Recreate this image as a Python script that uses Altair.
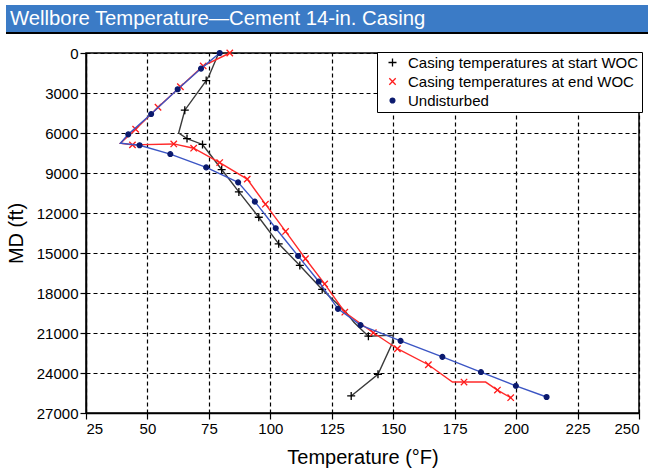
import altair as alt
import pandas as pd

TITLE = "Wellbore Temperature\u2014Cement 14-in. Casing"
SERIES = ["Casing temperatures at start WOC", "Casing temperatures at end WOC", "Undisturbed"]

# Casing temperatures at start WOC (black)
start_temp = [79.0, 75.2, 73.9, 65.2, 62.7, 66.1, 72.4, 75.6, 80.2, 87.2, 95.3, 103.4, 112.0, 121.1,
              130.6, 134.0, 139.9, 150.0, 149.6, 143.8, 132.9]
start_md = [0, 1650, 2070, 4290, 6000, 6420, 6860, 7630, 8740, 10420, 12320, 14310, 15930, 17730,
            19400, 20200, 21240, 21160, 21780, 24100, 25720]
start_mark = [False, False, True, True, False, True, True, False, True, True, True, True, True, True,
              False, False, True, False, False, True, True]

# Casing temperatures at end WOC (red)
end_temp = [83.5, 72.7, 63.4, 54.3, 45.2, 39.0, 43.9, 60.7, 68.8, 79.4, 90.6, 98.0, 106.2, 114.3,
            122.1, 130.3, 141.9, 151.7, 164.3, 174.1, 178.8, 187.6, 192.4, 197.8]
end_md = [0, 970, 2530, 4070, 5720, 6770, 6890, 6820, 7140, 8220, 9460, 11340, 13380, 15430,
          17320, 19440, 20980, 22180, 23380, 24680, 24680, 24680, 25280, 25850]
end_mark = [True, True, True, True, True, False, True, True, True, True, True, True, True, True,
            True, True, True, True, True, False, True, False, True, True]

# Undisturbed (blue)
und_temp = [79.4, 71.8, 62.3, 51.5, 42.2, 39.0, 46.8, 59.3, 73.9, 86.9, 93.7, 102.2, 111.3, 119.7,
            127.5, 136.7, 153.0, 170.0, 185.7, 199.9, 212.4]
und_md = [0, 1170, 2720, 4580, 6100, 6770, 6920, 7580, 8580, 9700, 11150, 13140, 15220, 17140,
          19190, 20410, 21590, 22790, 23930, 24960, 25800]
und_mark = [True, True, True, True, True, False, True, True, True, True, True, True, True, True,
            True, True, True, True, True, True, True]

x_ticks = [25, 50, 75, 100, 125, 150, 175, 200, 225, 250]
y_ticks = [0, 3000, 6000, 9000, 12000, 15000, 18000, 21000, 24000, 27000]

rows = []
for name, ts, ds, ms in [(SERIES[0], start_temp, start_md, start_mark),
                         (SERIES[1], end_temp, end_md, end_mark),
                         (SERIES[2], und_temp, und_md, und_mark)]:
    for i, (t, d, m) in enumerate(zip(ts, ds, ms)):
        rows.append({"series": name, "temp": t, "md": d, "mark": m, "ord": i})
df = pd.DataFrame(rows)

line_colors = {SERIES[0]: "#3a3a3a", SERIES[1]: "#ff2a2a", SERIES[2]: "#3b55c4"}

FONT = "Liberation Sans"
xenc = alt.X("temp:Q", scale=alt.Scale(domain=[25, 250], nice=False, zero=False),
             axis=alt.Axis(values=x_ticks, title="Temperature (\u00b0F)"))
yenc = alt.Y("md:Q", scale=alt.Scale(domain=[0, 27000], reverse=True, nice=False),
             axis=alt.Axis(values=y_ticks, format="d", title="MD (ft)"))

plus_path = "M-1,0L1,0M0,-1L0,1"
x_path = "M-0.8,-0.8L0.8,0.8M-0.8,0.8L0.8,-0.8"
dot_path = "M-0.6,0A0.6,0.6 0 1,0 0.6,0A0.6,0.6 0 1,0 -0.6,0Z"

leg = alt.Legend(title=None, orient="none", legendX=291, legendY=-1,
                 fillColor="white", strokeColor="black", padding=3,
                 labelFontSize=15, labelFont=FONT, labelColor="black", labelLimit=400,
                 symbolOffset=5, rowPadding=3, symbolStrokeWidth=1.3, labelOffset=8,
                 symbolSize=64)

color_enc = alt.Color("series:N", scale=alt.Scale(domain=SERIES, range=["#000000", "#ff1a1a", "#0b1a6e"]), legend=leg)
shape_enc = alt.Shape("series:N", scale=alt.Scale(domain=SERIES, range=[plus_path, x_path, dot_path]), legend=leg)
fill_enc = alt.Fill("series:N", scale=alt.Scale(domain=SERIES, range=["transparent", "transparent", "#0b1a6e"]), legend=leg)

layers = []
for s in SERIES:
    base = alt.Chart(df).transform_filter(alt.datum.series == s)
    layers.append(base.mark_line(color=line_colors[s], strokeWidth=1.4).encode(
        x=xenc, y=yenc, order="ord:Q"))
    layers.append(base.transform_filter(alt.datum.mark).mark_point(
        filled=False, strokeWidth=1.3, opacity=1, size=64).encode(
        x=xenc, y=yenc, color=color_enc, shape=shape_enc, fill=fill_enc))

tdf = pd.DataFrame({"t": [TITLE]})
bar = alt.Chart(tdf).mark_rect(color="#3b7bc6").encode(
    x=alt.value(-80), x2=alt.value(562), y=alt.value(-48), y2=alt.value(-21))
underline = alt.Chart(tdf).mark_rule(color="black", strokeWidth=2).encode(
    x=alt.value(-80), x2=alt.value(562), y=alt.value(-20))
title_text = alt.Chart(tdf).mark_text(align="left", baseline="middle", color="white",
                                      fontSize=20.3, font=FONT).encode(
    x=alt.value(-76), y=alt.value(-34), text="t:N")

chart = alt.layer(bar, underline, title_text, *layers).properties(
    width=553, height=360,
    autosize=alt.AutoSizeParams(type="none"),
    padding={"left": 86, "top": 53, "right": 9, "bottom": 59},
    background="white",
).configure_view(stroke="black", strokeWidth=1.5).configure_axis(
    labelFont=FONT, titleFont=FONT, labelFontSize=15, titleFontSize=20,
    labelColor="black", titleColor="black", domainColor="black", tickColor="black",
    tickSize=6, domainWidth=1.5, tickWidth=1.2, labelPadding=2,
    grid=True, gridColor="black", gridDash=[4, 3], gridWidth=1.2, gridOpacity=1,
    titleFontWeight="normal",
).configure_axisX(titlePadding=11).configure_axisY(titlePadding=10)

chart.save("out.html", embed_options={"renderer": "svg", "actions": False})
